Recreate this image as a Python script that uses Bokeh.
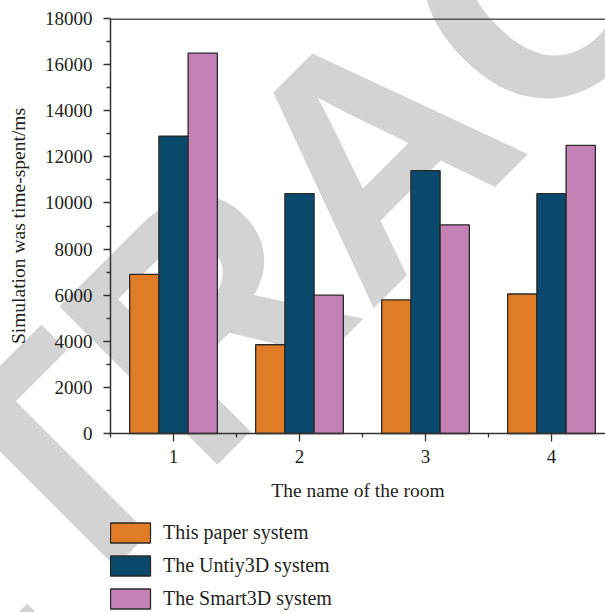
from bokeh.plotting import figure
from bokeh.models import (ColumnDataSource, FixedTicker, Legend, LegendItem,
                          Range1d, Span)
from bokeh.layouts import column
from bokeh.core.properties import value
from bokeh.embed import file_html
from bokeh.resources import INLINE
from bokeh.transform import dodge

# ---- data ----
rooms = [1, 2, 3, 4]
this_paper = [6900, 3850, 5800, 6050]
unity3d = [12900, 10400, 11400, 10400]
smart3d = [16500, 6000, 9050, 12500]
series_names = ["This paper system", "The Untiy3D system", "The Smart3D system"]
series_colors = ["#E07C26", "#0A496B", "#C580B6"]
y_ticks = [0, 2000, 4000, 6000, 8000, 10000, 12000, 14000, 16000, 18000]
y_minor = [1000, 3000, 5000, 7000, 9000, 11000, 13000, 15000, 17000]
x_minor = [0.5, 1.5, 2.5, 3.5, 4.5]
x_title = "The name of the room"
y_title = "Simulation was time-spent/ms"
watermark_text = ["RETRACTED"]
watermark_x = [2.571]
watermark_y = [12230]

SERIF = "Liberation Serif"
X_RANGE = (0.5, 4.4286)
Y_MAX = 18000
# pixel geometry of the chart figure and the legend strip below it
W, H1, H2 = 605, 510, 102
LEFT, TOP, BOTTOM = 110, 18, 77
px_per_y = (H1 - TOP - BOTTOM) / Y_MAX

src = ColumnDataSource(dict(room=rooms, a=this_paper, b=unity3d, c=smart3d))
cols = ["a", "b", "c"]
w = 0.232
offs = [-w, 0, w]


def add_watermark(fig):
    fig.text(x=watermark_x, y=watermark_y, text=watermark_text, angle=45,
             angle_units="deg", text_align="center", text_baseline="alphabetic",
             text_font=value("Liberation Sans"), text_font_style="bold",
             text_font_size=value("325px"), text_color="#D3D3D3", level="guide")


def add_bars(fig, level, visible=True):
    out = []
    for col, off, color in zip(cols, offs, series_colors):
        r = fig.vbar(x=dodge("room", off, range=fig.x_range), top=col, width=w,
                     bottom=0, source=src, fill_color=color, line_color="#2a2a2a",
                     line_width=1.3, level=level, visible=visible)
        out.append(r)
    return out


# ---------------- chart ----------------
p = figure(width=W, height=H1, output_backend="svg", toolbar_location=None,
           x_range=Range1d(*X_RANGE), y_range=Range1d(0, Y_MAX),
           min_border_left=LEFT, min_border_right=0, min_border_top=TOP,
           min_border_bottom=BOTTOM)
p.outline_line_color = None
p.grid.visible = False
p.background_fill_color = "white"
p.border_fill_color = "white"

add_watermark(p)
add_bars(p, "annotation")

p.add_layout(Span(location=Y_MAX, dimension="width", line_color="#555555",
                  line_width=3))

xa = p.xaxis[0]
ya = p.yaxis[0]
xa.ticker = FixedTicker(ticks=rooms, minor_ticks=x_minor)
xa.axis_label = x_title
ya.ticker = FixedTicker(ticks=y_ticks, minor_ticks=y_minor)
ya.axis_label = y_title
for ax in (xa, ya):
    ax.level = "annotation"
    ax.axis_line_color = "#333333"
    ax.axis_line_width = 1.5
    ax.major_tick_line_color = "#333333"
    ax.minor_tick_line_color = "#333333"
    ax.major_tick_line_width = 1.3
    ax.minor_tick_line_width = 1.3
    ax.major_tick_in = 0
    ax.minor_tick_in = 0
    ax.major_label_text_font = SERIF
    ax.major_label_text_font_size = "19px"
    ax.major_label_text_color = "#231f20"
    ax.axis_label_text_font = SERIF
    ax.axis_label_text_font_size = "19.5px"
    ax.axis_label_text_font_style = "normal"
    ax.axis_label_text_color = "#231f20"
xa.major_tick_out = 8
xa.minor_tick_out = 4
xa.major_label_standoff = 8
xa.axis_label_standoff = 14
ya.major_tick_out = 7
ya.minor_tick_out = 4
ya.major_label_standoff = 11
ya.axis_label_standoff = 13

# ---------------- legend strip (same coordinates continued downwards) ----------------
q = figure(width=W, height=H2, output_backend="svg", toolbar_location=None,
           x_range=Range1d(*X_RANGE),
           y_range=Range1d(-(BOTTOM + H2) / px_per_y, -BOTTOM / px_per_y),
           x_axis_location=None, y_axis_location=None,
           min_border_left=LEFT, min_border_right=0,
           min_border_top=0, min_border_bottom=0)
q.outline_line_color = None
q.grid.visible = False
q.background_fill_color = "white"
q.border_fill_color = "white"

add_watermark(q)
legend_rs = add_bars(q, "glyph", visible=False)  # only feed the legend

legend = Legend(items=[LegendItem(label=n, renderers=[r]) for n, r in zip(series_names, legend_rs)],
                location=(-5, 1), orientation="vertical", padding=0, margin=0,
                spacing=8, glyph_width=50, glyph_height=25, label_height=25,
                label_standoff=8, label_text_font=SERIF,
                label_text_font_size="20px", label_text_color="#231f20",
                label_text_baseline="middle",
                inactive_fill_alpha=0,
                background_fill_alpha=0, border_line_alpha=0)
q.add_layout(legend)

layout = column(p, q, spacing=0)
open("out.html", "w").write(file_html(layout, INLINE))
